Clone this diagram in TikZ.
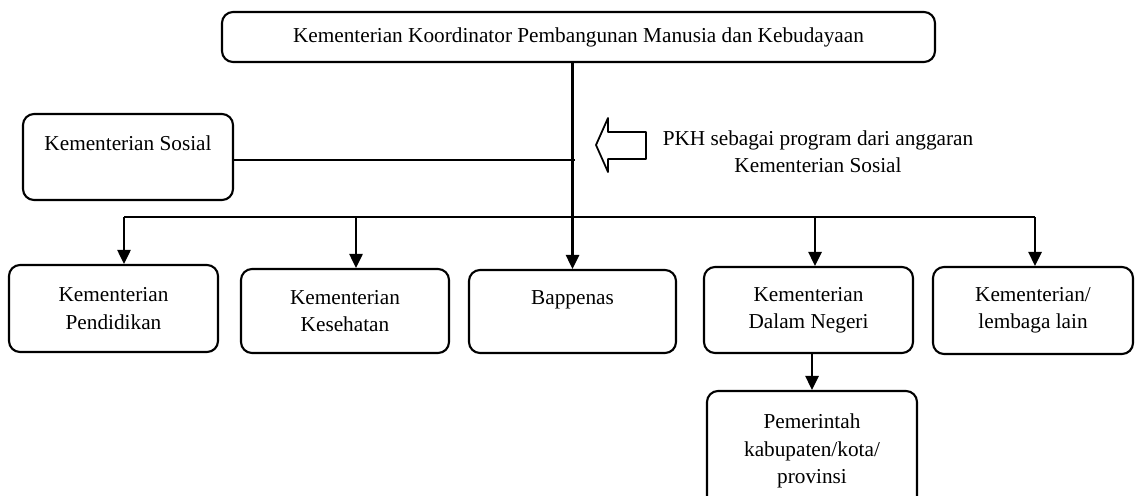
\documentclass[tikz,border=0pt]{standalone}
\usepackage{fontspec}
\setmainfont{Liberation Serif}
\usetikzlibrary{arrows.meta}
\tikzset{kotak/.style 2 args={draw, rounded corners=0.22cm, line width=1.2pt, align=center, inner sep=0pt,
		minimum width=#1*0.02cm, minimum height=#2*0.02cm}}
\begin{document}
\begin{tikzpicture}[x=0.02cm, y=-0.02cm, font=\fontsize{12.1}{15.5}\selectfont, line join=round, >={Triangle[width=7.5pt,length=8pt]}]
			\useasboundingbox (0,0) rectangle (1135,495);
			\def\ybus{217} % garis cabang
			\node[kotak={713}{50}] (kemenko) at (578.5,37) {Kementerian Koordinator Pembangunan Manusia dan Kebudayaan};
			\node[kotak={210}{86}] (sosial) at (128,157) {Kementerian Sosial\\~};
			\node[kotak={209}{87}] (pend) at (113.5,308.5) {Kementerian\\Pendidikan};
			\node[kotak={208}{84}] (kes) at (345,311) {Kementerian\\Kesehatan};
			\node[kotak={207}{83}] (bap) at (572.5,311.5) {Bappenas\\~};
			\node[kotak={209}{86}] (dagri) at (808.5,310) {Kementerian\\Dalam Negeri};
			\node[kotak={200}{87}] (lain) at (1033,310.5) {Kementerian/\\lembaga lain};
			\node[kotak={210}{120}] (pemda) at (812,451) {Pemerintah\\kabupaten/kota/\\provinsi};
			\node[align=center] (ket) at (818,151.5) {PKH sebagai program dari anggaran\\Kementerian Sosial};
			\draw[line width=1pt] (596,145)--(608,118)--(608,132)--(646,132)--(646,159)--(608,159)--(608,172)--cycle;
			\draw[line width=1.3pt,->] (kemenko.south -| bap.north)--(bap.north);
			\coordinate (sosujung) at (575,160);
			\draw[line width=1pt] (sosial.east |- sosujung)--(sosujung);
			\draw[line width=1.3pt] (124,\ybus)--(1035,\ybus);
			\foreach \xx/\nd in {124/pend,356/kes,815/dagri,1035/lain}{
				\coordinate (c\nd) at (\xx,\ybus);
				\draw[line width=1.3pt,->] (c\nd)--(c\nd |- \nd.north);
			}
			\draw[line width=1.3pt,->] (pemda.north |- dagri.south)--(pemda.north);
	\end{tikzpicture}
\end{document}
